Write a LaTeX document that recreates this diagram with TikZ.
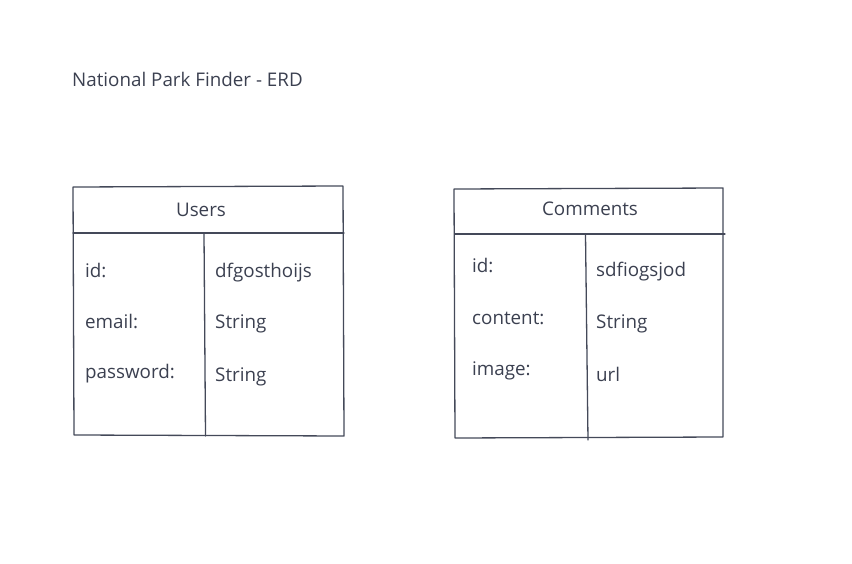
\documentclass[tikz,border=0pt]{standalone}
\usepackage{fontspec}
\setmainfont[Ligatures={NoCommon}]{Open Sans}
\definecolor{ink}{HTML}{3B4050}
\definecolor{pen}{HTML}{444959}
\begin{document}
\begin{tikzpicture}[x=1pt,y=-1pt,
  frame/.style={draw=pen,line width=1.3pt,line join=round,line cap=round},
  label/.style={text=ink,font=\fontsize{18.8}{22}\selectfont,inner sep=0pt,anchor=base west},
  head/.style={text=ink,font=\fontsize{18.8}{22}\selectfont,inner sep=0pt,anchor=base}]
\useasboundingbox (0,0) rectangle (852,564);

% title
\node[label] (title) at (72,87) {National Park Finder - ERD};

% Users table
\coordinate (u1) at (73,187);
\coordinate (u2) at (343,186);
\coordinate (u3) at (344,436);
\coordinate (u4) at (74,435);
\draw[frame] (u1) -- (u2) -- (u3) -- (u4) -- cycle;
\draw[frame] (73,233) -- (344,233);
\draw[frame] (204,233) -- (205.5,436);
\node[head] (users) at (201,217) {Users};
\node[label] (uid) at (85,278) {id:};
\node[label] (uemail) at (85,328) {email:};
\node[label] (upass) at (85,378) {password:};
\node[label] (uidv) at (215,278) {dfgosthoijs};
\node[label] (uemailv) at (215,329) {String};
\node[label] (upassv) at (215,381) {String};

% Comments table
\coordinate (c1) at (454,189);
\coordinate (c2) at (723,188);
\coordinate (c3) at (723,437);
\coordinate (c4) at (455,438);
\draw[frame] (c1) -- (c2) -- (c3) -- (c4) -- cycle;
\draw[frame] (455,234) -- (725,234);
\draw[frame] (585.5,234) -- (588,440);
\node[head] (comments) at (590,216) {Comments};
\node[label] (cid) at (472,273) {id:};
\node[label] (ccontent) at (472,324) {content:};
\node[label] (cimage) at (472,375) {image:};
\node[label] (cidv) at (596,277) {sdfiogsjod};
\node[label] (ccontentv) at (596,329) {String};
\node[label] (cimagev) at (596,381) {url};
\end{tikzpicture}
\end{document}
